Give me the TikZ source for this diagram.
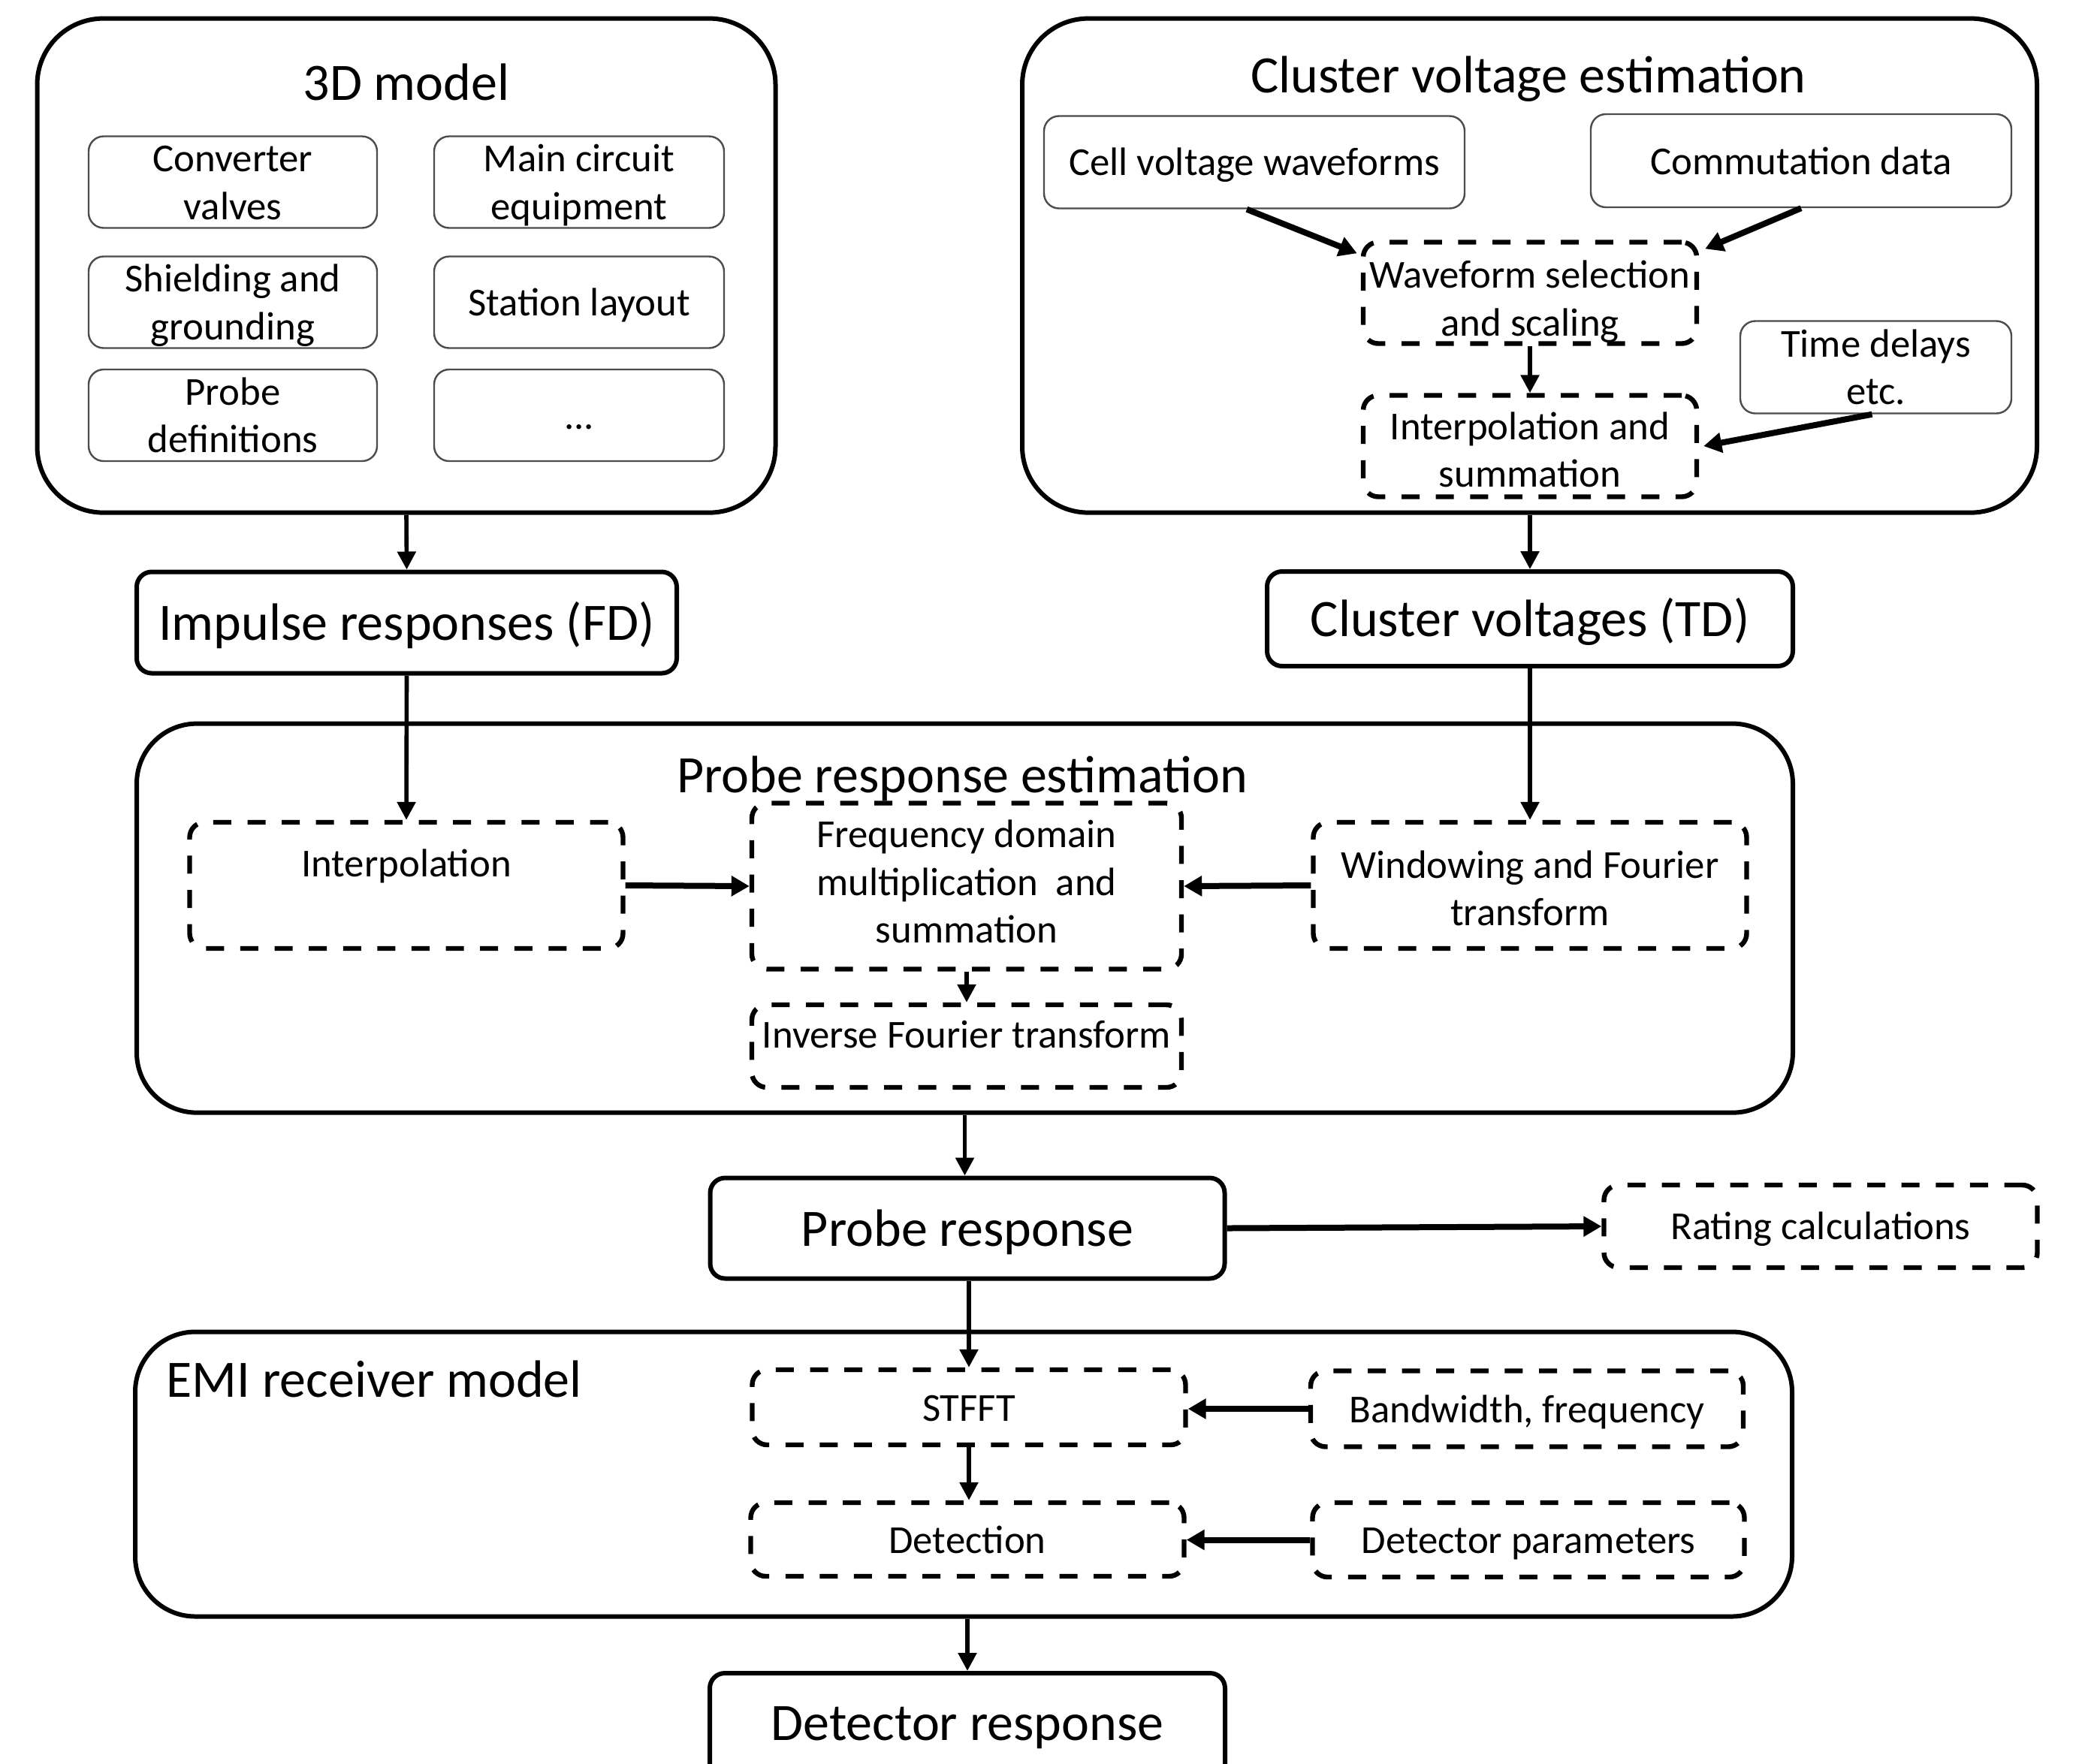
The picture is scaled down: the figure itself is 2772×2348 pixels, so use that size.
\documentclass[tikz,border=0pt]{standalone}
\usepackage{fontspec}
\setmainfont{Carlito}
\usetikzlibrary{arrows.meta,calc}
\tikzset{
  sz/.style 2 args={minimum width=#1*0.25pt, minimum height=#2*0.25pt},
  outerbox/.style={draw, line width=1.5pt, rounded corners=22pt, inner sep=0pt},
  thinbox/.style={draw=black!70, line width=0.6pt, rounded corners=5pt, inner sep=0pt, align=center, font=\smallfnt},
  dbox/.style={draw, line width=1.6pt, dash pattern=on 6pt off 5.4pt, rounded corners=5pt, inner sep=0pt, align=center, font=\smallfnt},
  sbox/.style={draw, line width=1.5pt, rounded corners=5pt, inner sep=0pt, align=center, font=\bigfnt},
  titletxt/.style={font=\bigfnt, inner sep=0pt},
  smalltxt/.style={font=\smallfnt, inner sep=0pt, align=center},
  arr/.style={-{Triangle[length=6pt,width=6pt]}, line width=1.4pt},
  tarr/.style={-{Triangle[length=6pt,width=6.5pt]}, line width=2pt},
}
\newcommand\smallfnt{\fontsize{13.2}{15.9}\selectfont}
\newcommand\bigfnt{\fontsize{17.5}{21}\selectfont}
\newcommand\tp{\rule{0pt}{0.7\baselineskip}}
\newcommand\bt{\rule[-0.13\baselineskip]{0pt}{0.13\baselineskip}}
\begin{document}
\begin{tikzpicture}[x=0.25pt,y=-0.25pt]
\path[use as bounding box, clip] (0,0) rectangle (2772,2348);
\fill[white] (0,0) rectangle (2772,2348);

% ---------- 3D model ----------
\node[outerbox, sz={983}{658}] (m3d) at (541,353.6) {};
\node[titletxt, anchor=base] (m3dt) at (541,133) {3D model};
\node[thinbox, sz={384}{122}] (conv) at (310,242.5) {\tp Converter\\valves\bt};
\node[thinbox, sz={386}{122}] (mce) at (771,242.5) {\tp Main circuit\\equipment\bt};
\node[thinbox, sz={384}{122}] (shg) at (310,402.5) {\tp Shielding and\\grounding\bt};
\node[thinbox, sz={386}{122}] (stl) at (771,402.5) {\tp Station layout\bt};
\node[thinbox, sz={384}{122}] (prd) at (310,553) {\tp Probe\\definitions\bt};
\node[thinbox, sz={386}{122}] (dots) at (771,553) {\tp ...\bt};

% ---------- Cluster voltage estimation ----------
\node[outerbox, sz={1351}{658}] (cve) at (2036.5,353.6) {};
\node[titletxt, anchor=base] (cvet) at (2035,123) {Cluster voltage estimation};
\node[thinbox, sz={560}{123}] (cell) at (1670,216) {\tp Cell voltage waveforms\bt};
\node[thinbox, sz={560}{124}] (comm) at (2398,214) {\tp Commutation data\bt};
\node[dbox, sz={444}{135}] (wsel) at (2037,390) {};
\node[smalltxt] (wselt) at (2037,398) {\tp Waveform selection\\and scaling\bt};
\node[thinbox, sz={361}{123}] (tdel) at (2497.5,489) {\tp Time delays\\etc.\bt};
\node[dbox, sz={444}{135}] (isum) at (2037,594) {};
\node[smalltxt] (isumt) at (2037,599) {\tp Interpolation and\\summation\bt};

\draw[tarr] ($(cell.south)+(-10,0)$) -- ($(wsel.north west)+(-5,18)$);
\draw[tarr] (comm.south) -- ($(wsel.north east)+(8,12)$);
\draw[arr] (wsel.south) -- (isum.north);
\draw[tarr] ($(tdel.south)+(-5,0)$) -- ($(isum.east)+(6,0)$);

% ---------- middle boxes ----------
\node[sbox, sz={719}{135}] (imp) at (541.5,829) {\tp Impulse responses (FD)\bt};
\node[sbox, sz={700}{126}] (clv) at (2037,824) {\tp Cluster voltages (TD)\bt};
\draw[arr] (m3d.south) -- (imp.north);
\draw[arr] (cve.south -| clv.north) -- (clv.north);

% ---------- Probe response estimation ----------
\node[outerbox, sz={2205}{518}, rounded corners=20pt] (pre) at (1284.5,1222.6) {};
\node[titletxt, anchor=base] (pret) at (1281,1055) {Probe response estimation};
\node[dbox, sz={577}{168}] (interp) at (541,1179) {};
\node[smalltxt, anchor=base] (interpt) at (541,1167) {Interpolation};
\node[dbox, sz={572}{221}] (fdm) at (1287,1180) {};
\node[smalltxt] (fdmt) at (1287,1174) {\tp Frequency domain\\multiplication~ and\\summation\bt};
\node[dbox, sz={577}{168}] (wind) at (2037,1179) {};
\node[smalltxt] (windt) at (2037,1183) {\tp Windowing and Fourier\\transform\bt};
\node[dbox, sz={572}{110}] (ift) at (1287,1393) {};
\node[smalltxt, anchor=base] (iftt) at (1287,1395) {Inverse Fourier transform};

\draw[arr] (imp.south) -- (interp.north);
\draw[arr] (clv.south) -- (wind.north);
\draw[tarr] (interp.east) -- (fdm.west);
\draw[tarr] (wind.west) -- (fdm.east);
\draw[arr] (fdm.south) -- (ift.north);

% ---------- Probe response ----------
\node[sbox, sz={685}{134}] (presp) at (1288,1635.5) {\tp Probe response\bt};
\node[dbox, sz={577}{110}] (rate) at (2424,1633) {\tp Rating calculations\bt};
\draw[arr] (pre.south) -- (pre.south |- presp.north);
\draw[tarr] (presp.east) -- (rate.west);

% ---------- EMI receiver model ----------
\node[outerbox, sz={2206}{379}, rounded corners=20pt] (emi) at (1283,1963) {};
\node[titletxt, anchor=base west] (emit) at (221,1860) {EMI receiver model};
\node[dbox, sz={577}{100}] (stfft) at (1290,1874) {\tp STFFT\bt};
\node[dbox, sz={576}{101}] (bwf) at (2033,1876) {\tp Bandwidth, frequency\bt};
\node[dbox, sz={577}{98}] (det) at (1288,2050) {\tp Detection\bt};
\node[dbox, sz={575}{99}] (dpar) at (2035,2050.5) {\tp Detector parameters\bt};

\draw[arr] (presp.south -| stfft.north) -- (stfft.north);
\draw[arr] (stfft.south) -- (stfft.south |- det.north);
\draw[tarr] (bwf.west) -- (bwf.west -| stfft.east);
\draw[tarr] (dpar.west) -- (dpar.west -| det.east);

% ---------- Detector response ----------
\node[sbox, sz={686}{150}] (dresp) at (1288,2303) {};
\node[titletxt] (drespt) at (1288,2294) {\tp Detector response\bt};
\draw[arr] (emi.south -| dresp.north) -- (dresp.north);
\end{tikzpicture}
\end{document}
